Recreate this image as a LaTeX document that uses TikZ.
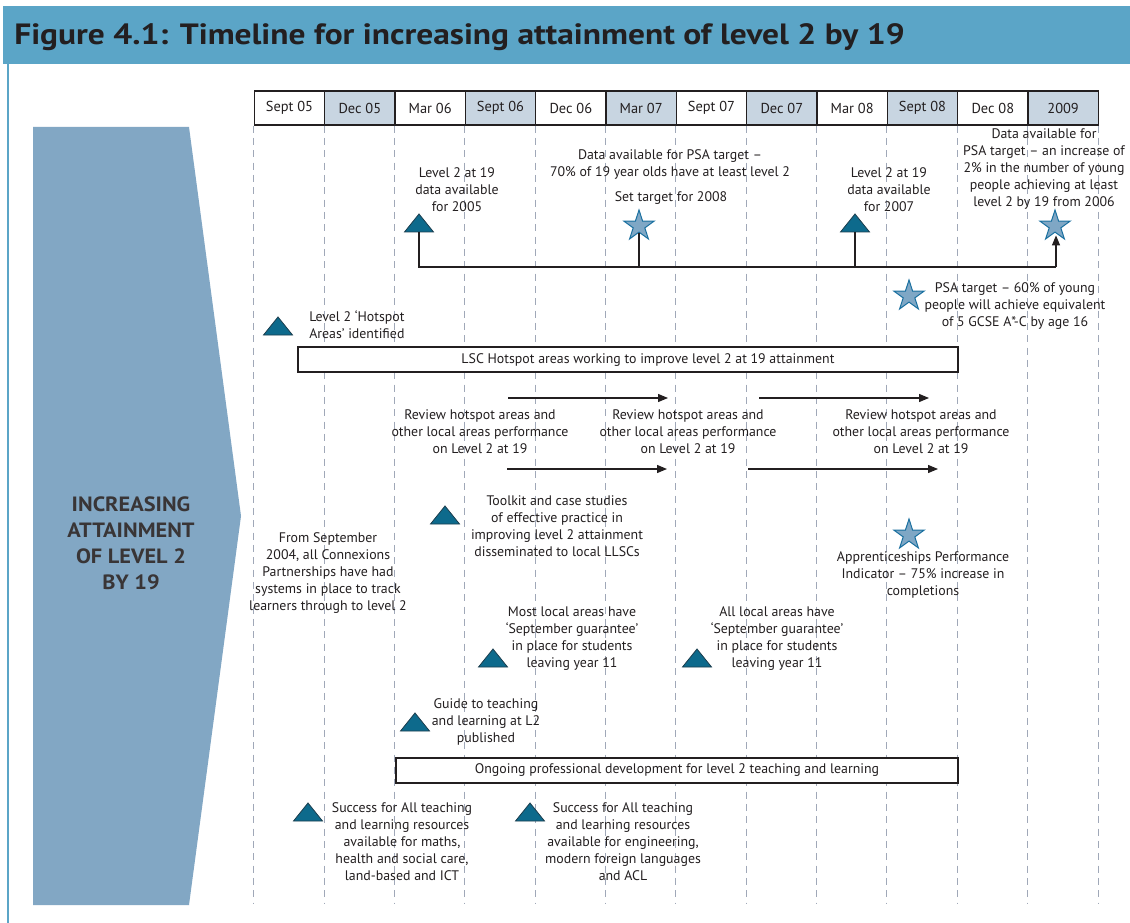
\documentclass[tikz,border=0pt]{standalone}
\usepackage{fontspec}
\setmainfont{PT Sans}
\usetikzlibrary{shapes.geometric,arrows.meta}
\definecolor{hdr}{HTML}{5BA5C7}
\definecolor{arrowblue}{HTML}{82A7C4}
\definecolor{cellshade}{HTML}{C8D5E1}
\definecolor{dashgray}{HTML}{A0A8B8}
\definecolor{ink}{HTML}{231F20}
\definecolor{trifill}{HTML}{0D6A8C}
\definecolor{tridraw}{HTML}{1C3E4E}
\definecolor{starfill}{HTML}{7FA7C5}
\definecolor{staredge}{HTML}{1A70A0}
\begin{document}
\begin{tikzpicture}[x=0.75pt,y=-0.75pt,
  txt/.style={align=center, inner sep=0pt, text=ink, font=\fontsize{10.4pt}{12.75pt}\selectfont},
  cell/.style={draw=ink, line width=0.9pt, minimum width=52.75pt, minimum height=25.5pt, inner sep=0pt, text=ink, font=\fontsize{10.8pt}{12pt}\selectfont},
  dashline/.style={draw=dashgray, line width=0.75pt, dash pattern=on 5.25pt off 4pt},
  bar/.style={draw=ink, line width=0.9pt, fill=white, inner sep=0pt, minimum height=18.75pt, text=ink, font=\fontsize{10.4pt}{12pt}\selectfont},
  conn/.style={draw=ink, line width=0.9pt},
  arr/.style={conn, -{Triangle[width=6pt,length=7.5pt]}},
  starnode/.style={star, star points=5, star point ratio=2.618, minimum size=24pt, inner sep=0pt, fill=starfill, draw=staredge, line width=0.75pt},
  tri/.pic={\filldraw[fill=trifill, draw=tridraw, line width=0.6pt] (-14.5,0) -- (0,-18) -- (14.5,0) -- cycle; \coordinate (-base) at (0,0);}
]
\useasboundingbox (0,0) rectangle (1130,923);
\fill[white] (0,0) rectangle (1130,923);

% header
\fill[hdr] (3,6) rectangle (1130,64);
\draw[hdr, line width=0.9pt] (8,64) -- (8,923);
\node[anchor=base west, inner sep=0pt, text=ink, font=\bfseries\fontsize{22pt}{24pt}\selectfont] (title) at (14,45) {\scalebox{1.14}[1]{Figure 4.1: Timeline for increasing attainment of level 2 by 19}};

% left arrow
\fill[arrowblue] (33,127) -- (189,127) -- (241,516) -- (189,905) -- (33,905) -- cycle;
\node[align=center, inner sep=0pt, text=ink!90, font=\bfseries\fontsize{15.5pt}{19.5pt}\selectfont] (side) at (131,543.5) {\scalebox{1.08}[1]{INCREASING}\\\scalebox{1.08}[1]{ATTAINMENT}\\\scalebox{1.08}[1]{OF LEVEL 2}\\\scalebox{1.08}[1]{BY 19}};

% timeline cells and dashed lines
\foreach \lab [count=\i from 0] in {Sept 05,Dec 05,Mar 06,Sept 06,Dec 06,Mar 07,Sept 07,Dec 07,Mar 08,Sept 08,Dec 08,2009}{
  \ifodd\i \def\cf{cellshade}\else\def\cf{white}\fi
  \node[cell, fill=\cf] (c\i) at ({289.5+70.33*\i},108) {\lab};
  \draw[dashline] (c\i.south west) -- (c\i.south west |- 0,904);
}
\draw[dashline] (c11.south east) -- (c11.south east |- 0,904);

% top group
\pic (t1) at (419,232) {tri};
\node[txt] (l1) at (457,190) {Level 2 at 19\\data available\\for 2005};
\node[starnode] (s1) at (639,226) {};
\node[txt] (l2) at (670,164) {Data available for PSA target --\\70\% of 19 year olds have at least level 2};
\node[txt] (l2b) at (671,198) {Set target for 2008};
\pic (t2) at (855,232) {tri};
\node[txt] (l3) at (889,190) {Level 2 at 19\\data available\\for 2007};
\node[starnode] (s2) at (1055,226) {};
\node[txt] (l4) at (1044,169.5) {Data available for\\PSA target -- an increase of\\2\% in the number of young\\people achieving at least\\level 2 by 19 from 2006};
\coordinate (corner) at (1056,267);
\draw[conn] (t1-base) |- (corner);
\draw[arr, shorten >=2pt] (corner) -- (s2.south -| corner);
\draw[conn] (s1.south) -- (s1.south |- corner);
\draw[conn] (t2-base) -- (t2-base |- corner);

% PSA 60%
\node[starnode] (s3) at (909,296) {};
\node[txt] (l5) at (1015,306) {PSA target -- 60\% of young\\people will achieve equivalent\\of 5 GCSE A*-C by age 16};

% hotspot
\pic (t3) at (278,335) {tri};
\node[txt, align=left, anchor=west] (l6) at (309,325) {Level 2 `Hotspot\\Areas' identified};
\node[bar, minimum width=495pt] (lsc) at (628,359.5) {};
\node[txt] (lsct) at (648,360) {LSC Hotspot areas working to improve level 2 at 19 attainment};

% review arrows
\coordinate (a1s) at (508,398); \coordinate (a1e) at (668,398);
\coordinate (a2s) at (507,469); \coordinate (a2e) at (667,469);
\coordinate (a3s) at (759,398); \coordinate (a3e) at (929,398);
\coordinate (a4s) at (748,469); \coordinate (a4e) at (938,469);
\draw[arr] (a1s) -- (a1e);
\draw[arr] (a2s) -- (a2e);
\draw[arr] (a3s) -- (a3e);
\draw[arr] (a4s) -- (a4e);
\node[txt] (r1) at (480,432) {Review hotspot areas and\\other local areas performance\\on Level 2 at 19};
\node[txt] (r2) at (688,432) {Review hotspot areas and\\other local areas performance\\on Level 2 at 19};
\node[txt] (r3) at (921,432) {Review hotspot areas and\\other local areas performance\\on Level 2 at 19};

% toolkit
\pic (t4) at (445,524) {tri};
\node[txt] (l7) at (557,526) {Toolkit and case studies\\of effective practice in\\improving level 2 attainment\\disseminated to local LLSCs};
\node[txt] (l8) at (328,573.5) {From September\\2004, all Connexions\\Partnerships have had\\systems in place to track\\learners through to level 2};
\node[starnode] (s4) at (909,535) {};
\node[txt] (l9) at (923,575) {Apprenticeships Performance\\Indicator -- 75\% increase in\\completions};

% September guarantee
\pic (t5) at (493,667) {tri};
\node[txt] (l10) at (572,638.5) {Most local areas have\\`September guarantee'\\in place for students\\leaving year 11};
\pic (t6) at (697,667) {tri};
\node[txt] (l11) at (777,638.5) {All local areas have\\`September guarantee'\\in place for students\\leaving year 11};

% guide
\pic (t7) at (415,731) {tri};
\node[txt] (l12) at (486,722) {Guide to teaching\\and learning at L2\\published};
\node[bar, minimum width=421.5pt] (ong) at (677,770.5) {Ongoing professional development for level 2 teaching and learning};

% success for all
\pic (t8) at (308,821) {tri};
\node[txt] (l13) at (402,841.5) {Success for All teaching\\and learning resources\\available for maths,\\health and social care,\\land-based and ICT};
\pic (t9) at (530,821) {tri};
\node[txt] (l14) at (623,841.5) {Success for All teaching\\and learning resources\\available for engineering,\\modern foreign languages\\and ACL};
\end{tikzpicture}
\end{document}
